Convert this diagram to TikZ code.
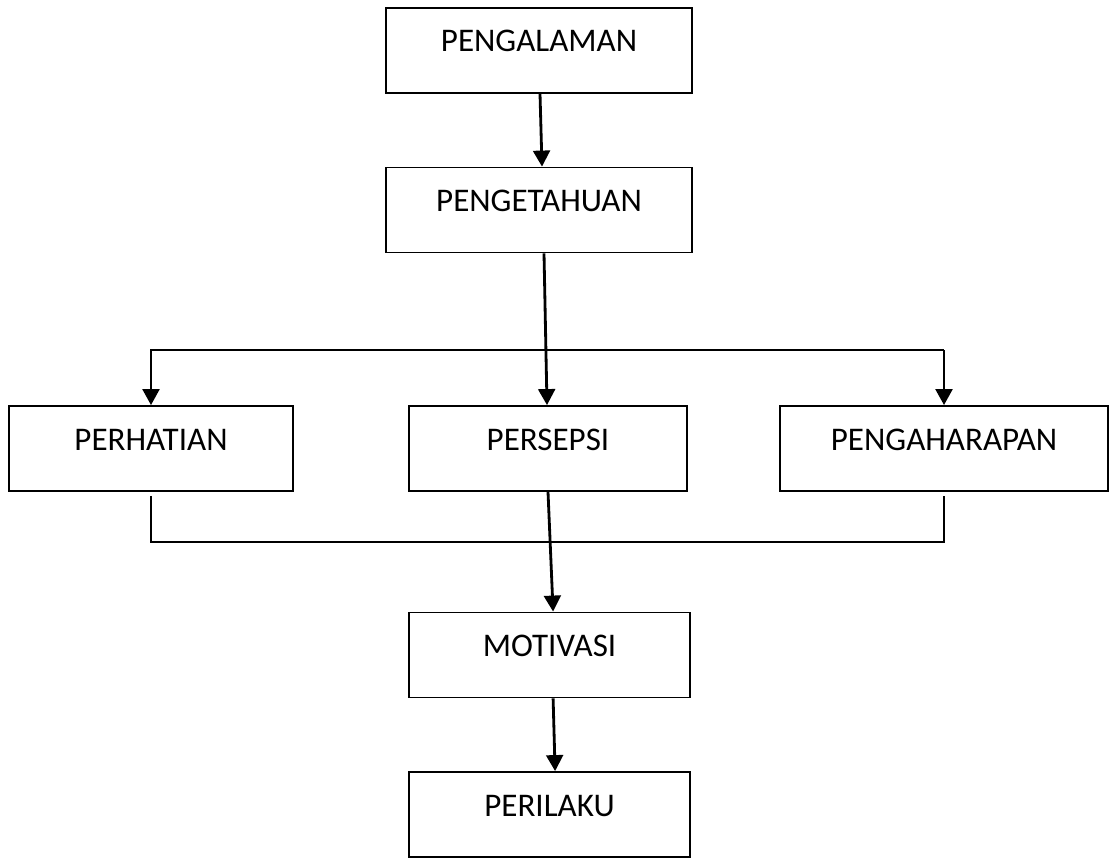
\documentclass[tikz,border=0pt]{standalone}
\usepackage{fontspec}
\setmainfont{Carlito}
\usepackage{tikz}
\usetikzlibrary{calc, positioning, arrows.meta}

\begin{document}
\begin{tikzpicture}[
    kotak/.style={draw=black, line width=1.3pt, inner sep=0pt,
                  text height=1.1cm, text depth=1.025cm, align=center,
                  font=\fontsize{23.5}{28}\selectfont},
    arr/.style={-{Triangle[width=0.42cm, length=0.4cm]}, line width=2pt},
    garis/.style={line width=1.4pt}
  ]
    \useasboundingbox (0,0) rectangle (27.75,-21.45);

    \node[kotak, minimum width=7.65cm] (pengalaman) at (13.475,-1.2625) {PENGALAMAN};
    \node[kotak, minimum width=7.65cm] (pengetahuan) at (13.475,-5.25) {PENGETAHUAN};
    \node[kotak, minimum width=7.1cm] (perhatian) at (3.775,-11.2125) {PERHATIAN};
    \node[kotak, minimum width=6.95cm] (persepsi) at (13.7,-11.2125) {PERSEPSI};
    \node[kotak, minimum width=8.2cm] (pengaharapan) at (23.6,-11.2125) {PENGAHARAPAN};
    \node[kotak, minimum width=7.025cm] (motivasi) at (13.7375,-16.375) {MOTIVASI};
    \node[kotak, minimum width=7.025cm] (perilaku) at (13.7375,-20.3625) {PERILAKU};

    \coordinate (bagi) at (13.7,-8.75);
    \coordinate (gabung) at (13.7,-13.55);

    \draw[arr] ([xshift=0.025cm]pengalaman.south) -- ([xshift=0.075cm]pengetahuan.north);
    \draw[arr] ([xshift=0.125cm]pengetahuan.south) -- ([xshift=-0.025cm]persepsi.north);
    \draw[arr] (bagi -| pengaharapan.north) -| (perhatian.north);
    \draw[arr] (bagi -| pengaharapan.north) -- (pengaharapan.north);
    \draw[garis, shorten <=0.1cm, shorten >=0.1cm] (perhatian.south) |- (gabung) -| (pengaharapan.south);
    \draw[arr] (persepsi.south) -- ([xshift=0.09cm]motivasi.north);
    \draw[arr] ([xshift=0.09cm]motivasi.south) -- ([xshift=0.14cm]perilaku.north);
\end{tikzpicture}
\end{document}
